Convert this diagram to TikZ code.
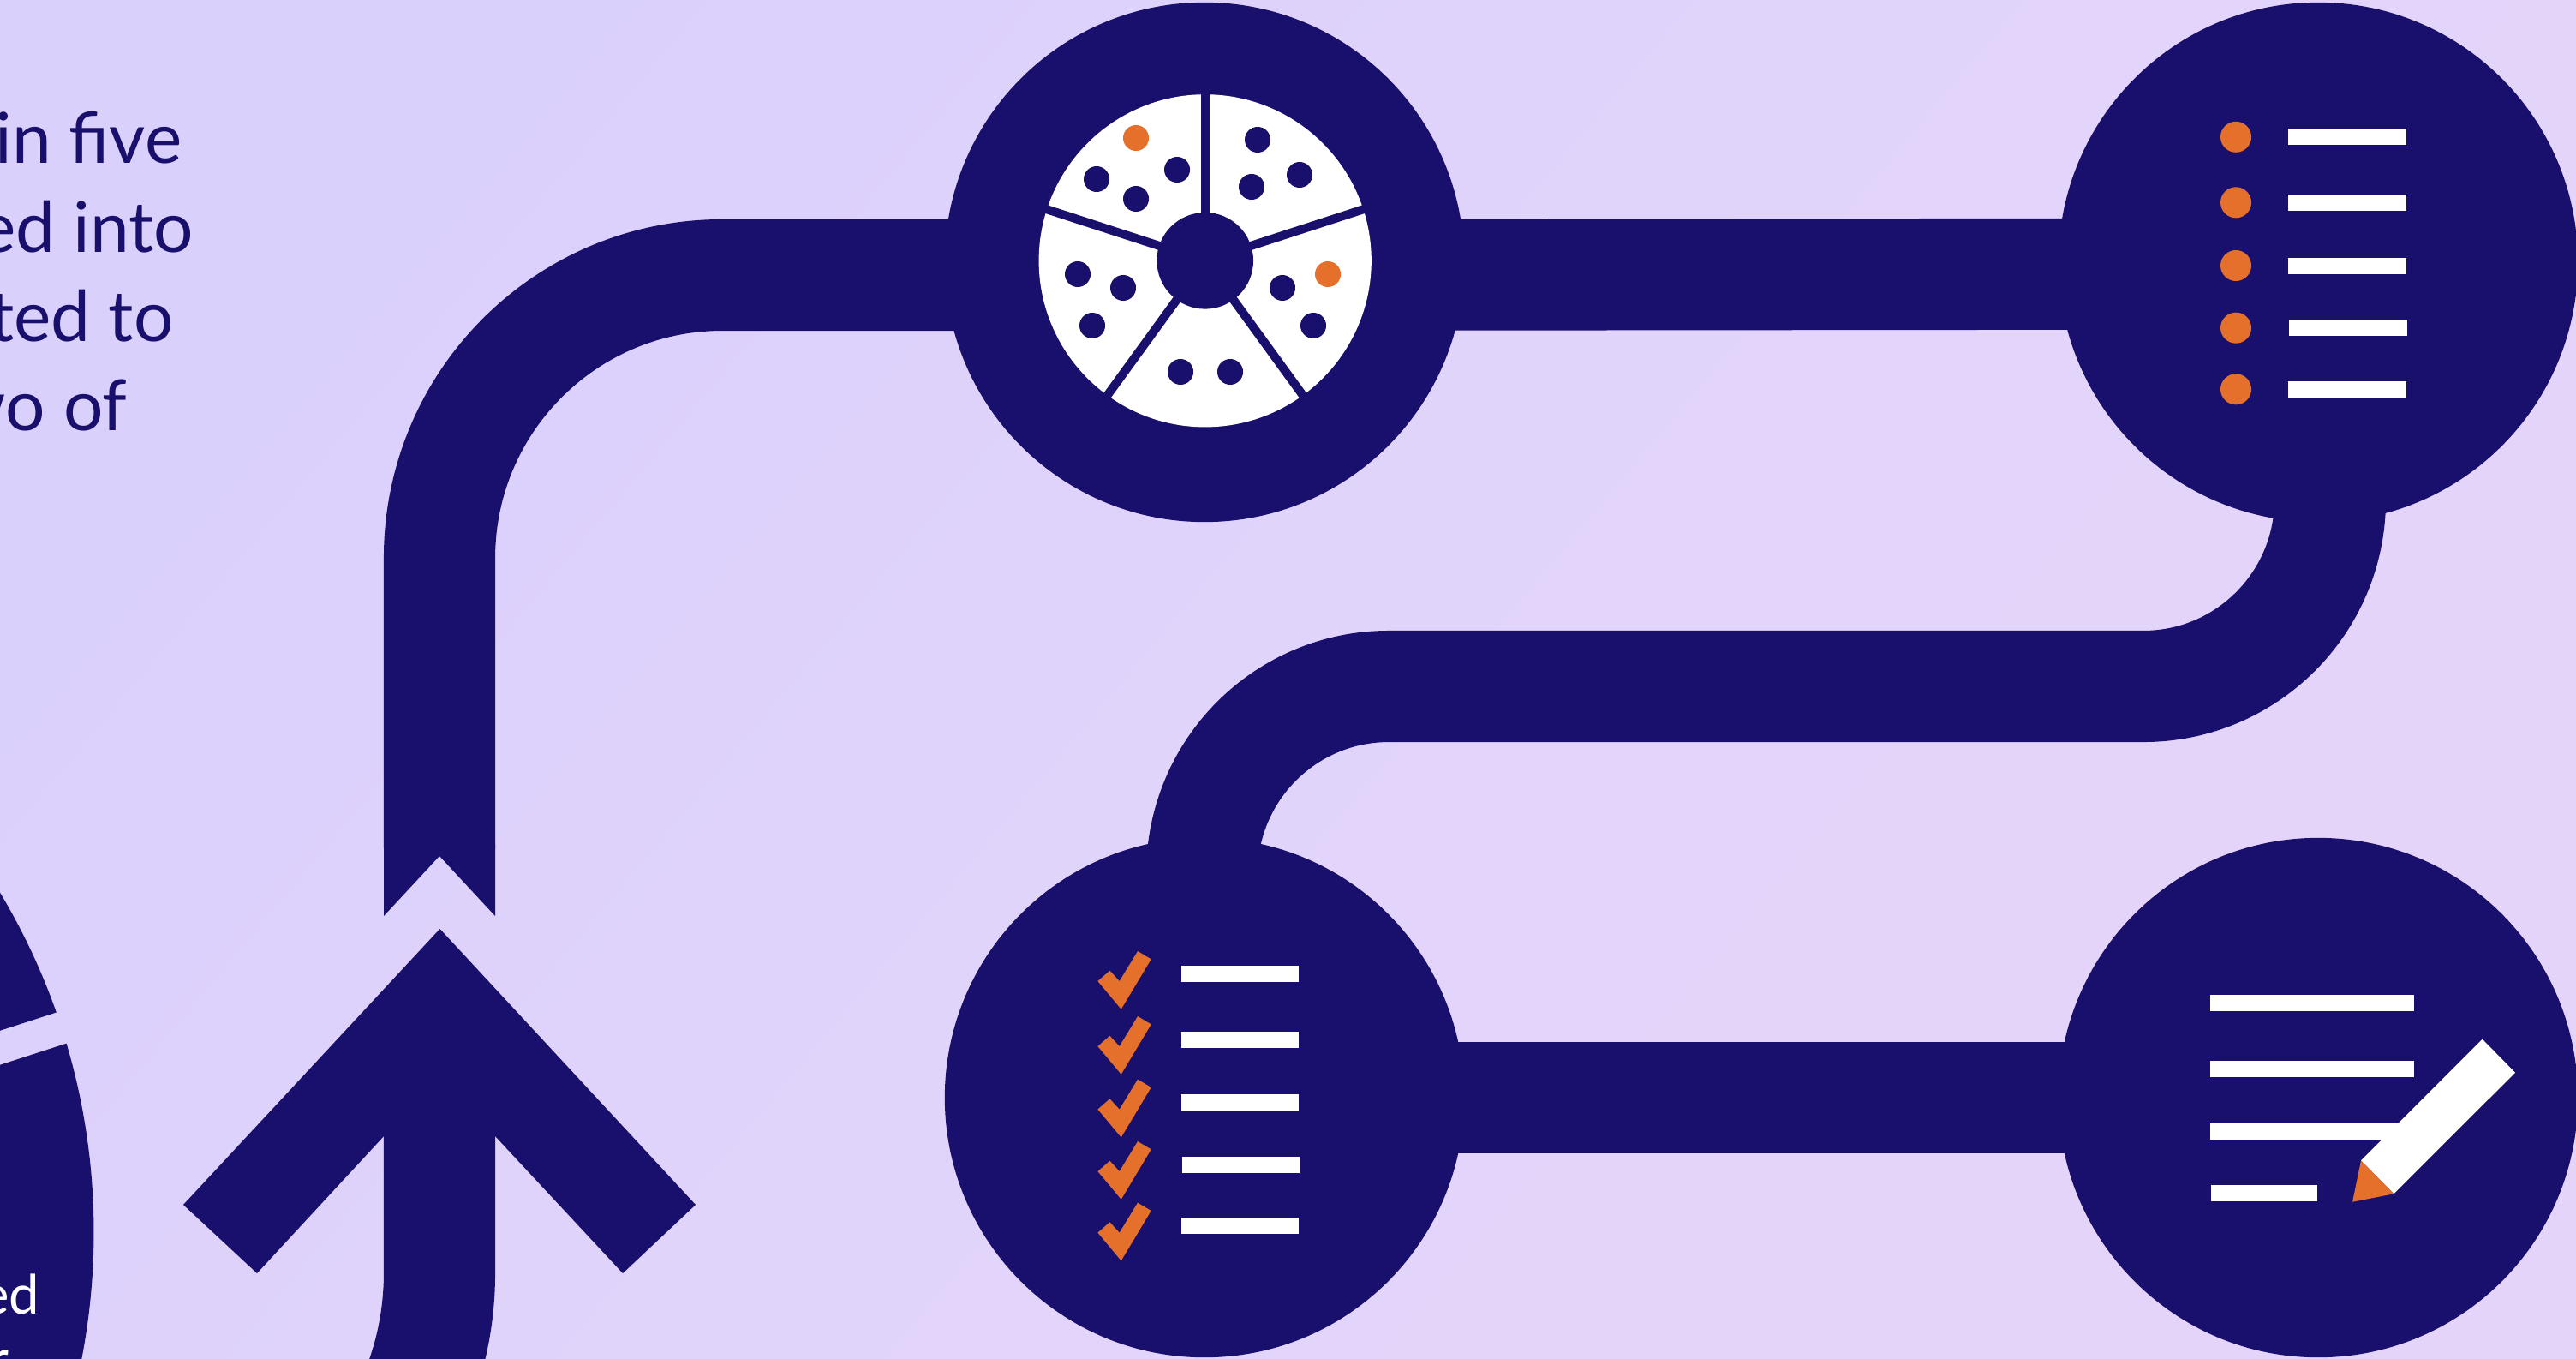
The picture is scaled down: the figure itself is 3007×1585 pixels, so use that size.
\documentclass[tikz,border=0pt]{standalone}
\usepackage{fontspec}
\setmainfont{Lato}
\usetikzlibrary{shadings}

\definecolor{inkblue}{RGB}{25,15,108}
\definecolor{accent}{RGB}{229,112,44}
\definecolor{bgblue}{RGB}{218,208,252}
\definecolor{bgmid}{RGB}{225,212,251}
\definecolor{bgpink}{RGB}{229,212,250}

\begin{document}
\begin{tikzpicture}[x=0.01cm, y=-0.01cm,
    stopdisc/.style={circle, fill=inkblue, inner sep=0pt, outer sep=0pt, minimum size=6.06cm},
    pipe/.style={draw=inkblue, line width=1.3cm},
    spoke/.style={draw=inkblue, line width=0.1cm},
    leadtext/.style={text=inkblue, anchor=base east, inner sep=0pt, font=\fontsize{23.3}{23.3}\selectfont},
    captext/.style={text=white, anchor=base east, inner sep=0pt, font=\fontsize{18}{18}\selectfont},
    dot/.style={circle, fill=inkblue, inner sep=0pt, minimum size=0.3cm},
    hotdot/.style={circle, fill=accent, inner sep=0pt, minimum size=0.3cm},
    bullet/.style={circle, fill=accent, inner sep=0pt, minimum size=0.36cm},
    bar/.style={fill=white, inner sep=0pt}]

  \useasboundingbox (0,0) rectangle (3007,1585);
  \clip (0,0) rectangle (3007,1585);
  \shade[shading=axis, left color=bgblue, right color=bgpink, middle color=bgmid, shading angle=50] (0,0) rectangle (3007,1585);

  %% Left: cut-off text and pie
  \node[leadtext] (leadone) at (213,190) {in five};
  \node[leadtext] (leadtwo) at (227,294) {ed into};
  \node[leadtext] (leadthree) at (203,398) {ted to};
  \node[leadtext] (leadfour) at (149,502) {wo of};

  \begin{scope}
    \clip (-10,800) -- (200,800) -- (200,1138) -- (-10,1206) -- cycle;
    \fill[inkblue] (-662,1438) circle[radius=7.71cm];
  \end{scope}
  \begin{scope}
    \clip (-10,1246) -- (200,1178) -- (200,1600) -- (-10,1600) -- cycle;
    \fill[inkblue] (-662,1438) circle[radius=7.71cm];
  \end{scope}
  \node[captext] (capone) at (47,1533) {ed};
  \node[captext] (captwo) at (11,1608) {r};

  %% Stops on the route
  \node[stopdisc] (piedisc) at (1406,306) {};
  \node[stopdisc] (listdisc) at (2706,306) {};
  \node[stopdisc] (checkdisc) at (1406,1281) {};
  \node[stopdisc] (notedisc) at (2706,1281) {};

  \coordinate (pieport) at (1406,321);
  \coordinate (listinlet) at (2706,319.5);
  \coordinate (listport) at (2720,450);
  \coordinate (checkport) at (1403,1150);
  \coordinate (piehub) at (1406.7,304.3);

  %% Route
  \draw[pipe] (pieport) -- (listinlet);
  \draw[pipe, rounded corners=2.18cm] (listport) -- (2720,801) -- (1403,801) -- (checkport);
  \draw[pipe] (checkdisc.center) -- (notedisc.center);

  %% Arrow with its notched tail
  \coordinate (shaftfoot) at (513,1300);
  \coordinate (tailtop) at (513,990);
  \draw[pipe, rounded corners=3.3cm] (tailtop) -- (513,321) -- (pieport);
  \draw[pipe, rounded corners=3.7cm] (shaftfoot) -- (513,1856) -- (143,1856);
  \fill[inkblue] (448,1069) -- (513,999) -- (578,1069) -- (578,985) -- (448,985) -- cycle;
  \fill[inkblue] (513.5,1084) -- (214,1406) -- (300,1486) -- (448,1326) -- (578,1326) -- (727,1486) -- (812,1406) -- cycle;

  %% Pie icon
  \fill[white] (piehub) circle[radius=1.94cm];
  \foreach \a in {-90,-18,54,126,198}
    \draw[spoke] (piehub) -- ++(\a:200);
  \fill[inkblue] (piehub) circle[radius=0.563cm];
  \foreach \x/\y in {1374/198, 1280/209, 1326/232, 1468/163, 1517/204, 1461/218,
                     1497/336, 1533/380, 1258/320, 1311/336, 1275/380, 1378/434, 1436/434}
    \node[dot] at (\x,\y) {};
  \node[hotdot] (hotone) at (1326,161) {};
  \node[hotdot] (hottwo) at (1550,320) {};

  %% Bullet list icon
  \foreach \y/\s in {159.8/0, 236.3/0, 310/0, 382.7/1, 454.3/0} {
    \node[bullet] at (2610,\y) {};
    \fill[bar] (2671+\s,\y-9.5) rectangle (2809+\s,\y+9.5);
  }

  %% Check list icon
  \foreach \y/\s in {1136.7/0, 1213/0, 1286.7/0, 1359/1, 1430.7/0}
    \fill[bar] (1378.7+\s,\y-9.5) rectangle (1515.7+\s,\y+9.5);
  \foreach \y in {1177.7, 1253.7, 1327.3, 1399.7, 1471.3}
    \fill[accent] (1308.7,\y) -- +(-27.3,-32.7) -- +(-13.3,-45) -- +(-2,-32.7)
      -- +(19.3,-67.7) -- +(35,-58.3) -- cycle;

  %% Note and pencil icon
  \foreach \y/\a/\b in {1170.7/2579.7/2818.3, 1247/2579.7/2818.3, 1320.3/2579.7/2818.3, 1392.7/2580.7/2705.3}
    \fill[bar] (\a,\y-9.5) rectangle (\b,\y+9.5);
  \fill[white] (2897.7,1212.7) -- (2936,1251.7) -- (2794.3,1393.3) -- (2756,1354.3) -- cycle;
  \fill[accent] (2756,1354.3) -- (2794.3,1393.3) -- (2746,1402.7) -- cycle;

\end{tikzpicture}
\end{document}
